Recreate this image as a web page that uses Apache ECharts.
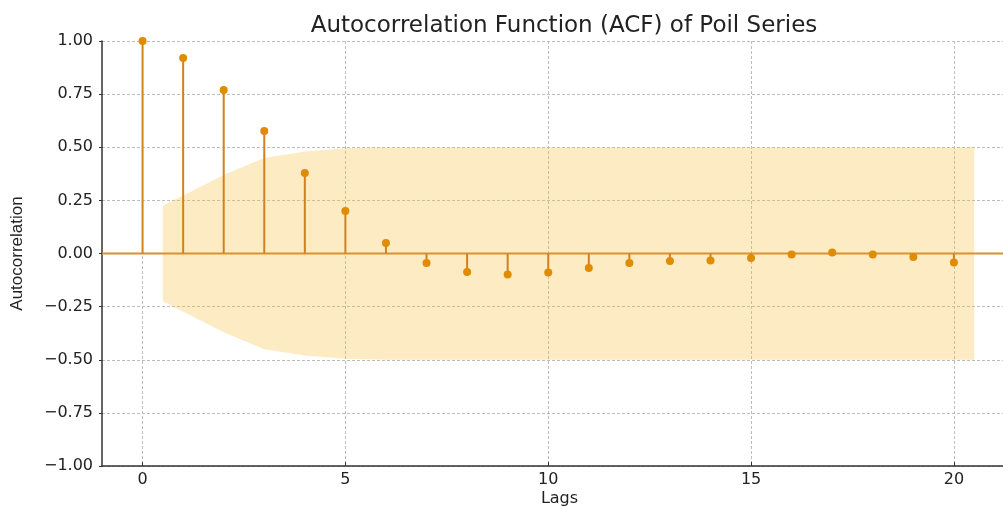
<!DOCTYPE html>
<html><head><meta charset="utf-8">
<script src="https://cdn.jsdelivr.net/npm/echarts@6/dist/echarts.min.js"></script>
<style>html,body{margin:0;padding:0;background:#fff;overflow:hidden}#c{width:1003px;height:506px}</style>
</head><body><div id="c"></div>
<script>
const titleText = 'Autocorrelation Function (ACF) of Poil Series';
const lags = [0,1,2,3,4,5,6,7,8,9,10,11,12,13,14,15,16,17,18,19,20];
const acf = [1.00,0.92,0.77,0.576,0.379,0.20,0.05,-0.045,-0.087,-0.099,-0.089,-0.068,-0.045,-0.035,-0.033,-0.021,-0.005,0.005,-0.005,-0.017,-0.042];
const bandX = [0.5,2,3,4,5,6,7,8,9,10,11,12,13,14,15,16,17,18,19,20.5];
const bandHalf = [0.225,0.37,0.45,0.48,0.495,0.50,0.50,0.50,0.50,0.50,0.50,0.50,0.50,0.50,0.50,0.50,0.50,0.50,0.50,0.50];
const xRange = [-1, 21.95];
const yRange = [-1, 1];

const font = 'DejaVu Sans';
const chart = echarts.init(document.getElementById('c'));
chart.setOption({
  animation: false,
  backgroundColor: '#fff',
  title: {
    text: titleText, left: 559, top: 10, textAlign: 'center',
    textStyle: {fontFamily: font, fontSize: 23, fontWeight: 'normal', color: '#222'}
  },
  grid: {left: 102, right: -30, top: 41, bottom: 40, outerBoundsMode: 'none', containLabel: false},
  xAxis: {
    type: 'value', min: xRange[0], max: xRange[1], splitNumber: 5,
    name: 'Lags', nameLocation: 'middle', nameGap: 25, nameMoveOverlap: false,
    nameTextStyle: {fontFamily: font, fontSize: 16, color: '#222', padding: [0, 16, 0, 0]},
    axisLine: {show: true, onZero: false, lineStyle: {color: '#333', width: 1.5}},
    axisTick: {show: true, inside: true, length: 4, lineStyle: {color: '#333'}},
    axisLabel: {fontFamily: font, fontSize: 16, color: '#222', margin: 6, showMinLabel: false, showMaxLabel: false},
    splitLine: {show: true, showMinLine: false, showMaxLine: false, lineStyle: {color: '#bdbdbd', type: [3, 2], width: 1}}
  },
  yAxis: {
    type: 'value', min: yRange[0], max: yRange[1], interval: 0.25,
    name: 'Autocorrelation', nameLocation: 'middle', nameGap: 76, nameRotate: 90, nameMoveOverlap: false,
    nameTextStyle: {fontFamily: 'Liberation Sans', fontSize: 17, color: '#222'},
    axisLine: {show: true, onZero: false, lineStyle: {color: '#333', width: 1.5}},
    axisTick: {show: true, inside: false, length: 3, lineStyle: {color: '#333'}},
    axisLabel: {fontFamily: font, fontSize: 16, color: '#222', margin: 9,
      formatter: v => (v < 0 ? '\u2212' : '') + Math.abs(v).toFixed(2)},
    splitLine: {show: true, lineStyle: {color: '#bdbdbd', type: [3, 2], width: 1}}
  },
  series: [
    {
      type: 'custom', name: 'band', z: 1, silent: true,
      data: [[bandX[0], 0]],
      renderItem: function (params, api) {
        const pts = [];
        for (let i = 0; i < bandX.length; i++) pts.push(api.coord([bandX[i], bandHalf[i]]));
        for (let i = bandX.length - 1; i >= 0; i--) pts.push(api.coord([bandX[i], -bandHalf[i]]));
        return {type: 'polygon', shape: {points: pts}, style: {fill: 'rgba(250,188,60,0.30)', stroke: 'none'}};
      }
    },
    {
      type: 'line', name: 'zero', z: 3, silent: true, symbol: 'none',
      data: [[xRange[0], 0], [xRange[1], 0]],
      lineStyle: {color: '#d9912f', width: 2}
    },
    {
      type: 'custom', name: 'acf', z: 4, silent: true,
      data: lags.map((l, i) => [l, acf[i]]),
      renderItem: function (params, api) {
        const x = api.value(0), y = api.value(1);
        const p0 = api.coord([x, 0]);
        const p1 = api.coord([x, y]);
        return {
          type: 'group',
          children: [
            {type: 'line', shape: {x1: p0[0], y1: p0[1], x2: p1[0], y2: p1[1]}, style: {stroke: '#d1821c', lineWidth: 2}},
            {type: 'circle', shape: {cx: p1[0], cy: p1[1], r: 4}, style: {fill: '#e08c00'}}
          ]
        };
      }
    }
  ]
});
</script></body></html>
